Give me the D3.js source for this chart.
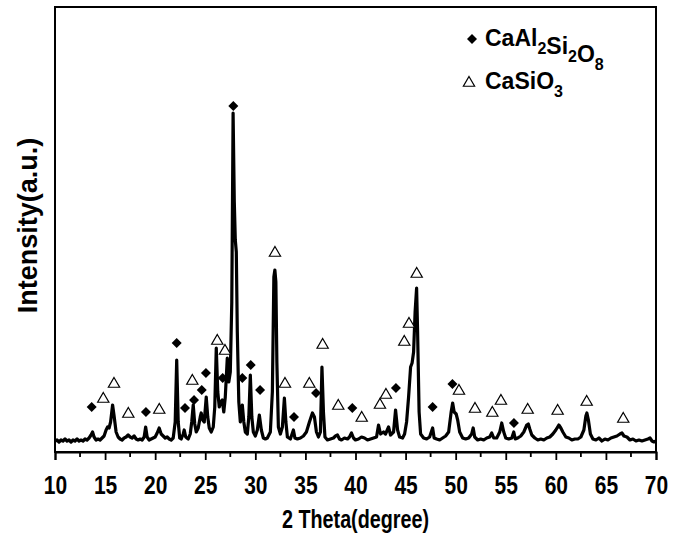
<!DOCTYPE html>
<html>
<head>
<meta charset="utf-8">
<script src="https://cdn.jsdelivr.net/npm/d3@7"></script>
<style>
  body { margin: 0; background: #fff; }
  text { font-family: "Liberation Sans", Arial, sans-serif; font-weight: bold; fill: #000; }
</style>
</head>
<body>
<svg id="chart" width="686" height="534"></svg>
<script>
// XRD pattern: [2theta (deg), intensity (a.u.)]
const pattern = [
  [10.0,11],[10.2,12],[10.4,10],[10.6,12],[10.8,11],[11.0,13],[11.2,11],[11.4,12],[11.6,10],[11.8,12],
  [12.0,11],[12.2,13],[12.4,11],[12.6,12],[12.8,11],[13.0,13],[13.2,12],[13.4,14],[13.6,17],[13.75,20],
  [13.9,15],[14.1,12],[14.3,13],[14.5,12],[14.7,14],[14.9,16],[15.1,22],[15.25,25],[15.4,24],[15.55,30],
  [15.75,47],[15.9,36],[16.1,20],[16.3,15],[16.5,13],[16.7,12],[16.9,14],[17.1,15],[17.3,17],[17.5,15],
  [17.7,14],[17.9,16],[18.1,13],[18.3,12],[18.5,13],[18.7,12],[18.9,15],[19.05,25],[19.2,15],[19.4,12],
  [19.6,13],[19.8,14],[20.0,15],[20.2,19],[20.4,24],[20.6,18],[20.8,16],[21.0,14],[21.2,15],[21.4,13],
  [21.6,12],[21.8,14],[22.0,30],[22.15,92],[22.3,30],[22.45,14],[22.6,13],[22.8,18],[22.9,22],[23.05,15],
  [23.3,13],[23.5,18],[23.65,30],[23.8,47],[23.95,28],[24.1,20],[24.3,24],[24.5,35],[24.6,39],[24.75,32],
  [24.9,30],[25.1,55],[25.25,35],[25.4,24],[25.6,20],[25.8,25],[25.95,45],[26.1,104],[26.25,60],[26.4,45],
  [26.55,50],[26.7,52],[26.85,40],[27.0,55],[27.2,94],[27.35,70],[27.5,80],[27.65,150],[27.78,339],[27.9,250],
  [28.0,212],[28.1,200],[28.2,120],[28.35,50],[28.5,30],[28.7,47],[28.85,30],[29.0,20],[29.2,18],[29.35,35],
  [29.5,77],[29.65,35],[29.8,20],[30.0,16],[30.2,22],[30.4,37],[30.6,22],[30.8,14],[31.0,13],[31.2,14],
  [31.5,20],[31.7,60],[31.85,175],[31.95,182],[32.05,170],[32.15,90],[32.3,25],[32.5,18],[32.7,25],[32.9,54],
  [33.05,30],[33.2,15],[33.5,13],[33.8,22],[33.95,14],[34.2,13],[34.5,14],[34.8,16],[35.1,20],[35.4,30],
  [35.7,39],[35.9,35],[36.1,20],[36.3,15],[36.5,20],[36.65,85],[36.8,40],[36.95,15],[37.2,12],[37.5,13],
  [37.8,14],[38.0,16],[38.2,17],[38.4,13],[38.6,12],[38.9,14],[39.2,13],[39.4,15],[39.6,19],[39.8,14],
  [40.0,12],[40.3,13],[40.6,15],[40.9,14],[41.2,12],[41.5,13],[41.8,14],[42.1,15],[42.3,27],[42.5,18],
  [42.8,20],[43.0,18],[43.3,25],[43.5,17],[43.8,20],[44.0,42],[44.2,22],[44.4,15],[44.7,14],[44.9,18],
  [45.1,30],[45.3,55],[45.5,85],[45.65,89],[45.8,100],[45.95,140],[46.1,164],[46.2,120],[46.35,40],[46.5,18],
  [46.8,14],[47.1,13],[47.4,15],[47.7,24],[47.85,14],[48.1,13],[48.4,12],[48.7,14],[49.0,16],[49.3,20],
  [49.55,40],[49.7,49],[49.85,40],[50.05,38],[50.2,32],[50.4,20],[50.7,14],[51.0,13],[51.3,14],[51.6,18],
  [51.75,24],[51.9,15],[52.2,12],[52.5,13],[52.8,12],[53.1,14],[53.4,15],[53.6,19],[53.8,14],[54.1,14],
  [54.4,20],[54.6,29],[54.8,20],[55.0,14],[55.3,13],[55.6,14],[55.8,20],[55.95,13],[56.2,14],[56.5,16],
  [56.8,20],[57.1,27],[57.25,28],[57.4,23],[57.6,17],[57.9,14],[58.2,12],[58.5,13],[58.8,12],[59.1,14],
  [59.4,15],[59.7,18],[60.0,22],[60.3,27],[60.5,24],[60.7,20],[61.0,15],[61.3,14],[61.6,12],[61.9,13],
  [62.2,13],[62.5,15],[62.8,22],[63.0,36],[63.1,39],[63.25,32],[63.45,18],[63.7,13],[64.0,12],[64.3,14],
  [64.6,11],[64.9,13],[65.2,12],[65.5,14],[65.8,15],[66.1,16],[66.4,18],[66.6,19],[66.8,16],[67.1,15],
  [67.4,12],[67.7,13],[68.0,11],[68.3,12],[68.6,11],[68.9,12],[69.2,13],[69.4,14],[69.6,11],[69.8,10],[70.0,11]
]

// phase markers: [2theta, height of marker]
const anorthite = [
  [13.66,45],[19.08,40],[22.15,109],[22.98,44],[23.88,52],[24.65,62],[25.07,79],[26.74,74],[27.8,346],
  [28.7,74],[29.54,87],[30.47,62],[33.86,35],[36.06,59],[39.68,44],[44.04,64],[47.7,45],[49.68,68],[55.82,29]
]
const wollastonite = [
  [14.82,53],[15.89,68],[17.32,38],[20.41,42],[23.71,71],[26.2,111],[26.97,101],[31.96,199],[32.96,68],
  [35.39,68],[36.72,107],[38.28,46],[40.62,34],[42.44,47],[43.04,57],[44.87,110],[45.34,128],[46.11,178],
  [50.33,61],[51.93,43],[53.66,39],[54.52,51],[57.19,42],[60.18,41],[63.08,50],[66.73,33]
]

const xTicks = [10,15,20,25,30,35,40,45,50,55,60,65,70]
const xMinor = [12.5,17.5,22.5,27.5,32.5,37.5,42.5,47.5,52.5,57.5,62.5,67.5]

const margin = {top: 7, right: 30, bottom: 82, left: 55},
      W = 686, H = 534

const svg = d3.select("#chart")

const x = d3.scaleLinear().domain([10, 70]).range([margin.left, W - margin.right])
const y = d3.scaleLinear().domain([0, 445]).range([H - margin.bottom, margin.top])

const diamond = d3.symbol(d3.symbolSquare, 50)
const triangle = d3.symbol(d3.symbolTriangle, 55)

// frame
svg.append("rect")
  .attr("x", x(10)).attr("y", y(445))
  .attr("width", x(70) - x(10)).attr("height", y(0) - y(445))
  .attr("fill", "none").attr("stroke", "#000").attr("stroke-width", 2)

// x axis (labels are a condensed bold face in the original)
const xAxis = svg.append("g")
  .attr("transform", `translate(0,${y(0)})`)
  .call(d3.axisBottom(x).tickValues(xTicks).tickSize(8).tickPadding(16).tickFormat(d3.format("d")))
xAxis.select(".domain").attr("stroke-width", 2)
xAxis.selectAll(".tick line").attr("stroke-width", 1.8)
xAxis.selectAll(".tick text")
  .attr("font-family", null)
  .style("font-size", "25px").style("font-weight", "bold")
  .attr("transform", "scale(0.84,1)")

svg.append("g").selectAll("line").data(xMinor).join("line")
  .attr("x1", d => x(d)).attr("x2", d => x(d))
  .attr("y1", y(0)).attr("y2", y(0) + 5)
  .attr("stroke", "#000").attr("stroke-width", 1.8)

// axis titles
svg.append("text")
  .attr("transform", `translate(${x(40)},528) scale(0.76,1)`)
  .attr("text-anchor", "middle").style("font-size", "26px")
  .text("2 Theta(degree)")

svg.append("text")
  .attr("transform", `translate(37,${(y(0) + y(445)) / 2 - 4}) rotate(-90)`)
  .attr("text-anchor", "middle").style("font-size", "27px")
  .text("Intensity(a.u.)")

// pattern
const line = d3.line().x(d => x(d[0])).y(d => y(d[1]))
svg.append("path").datum(pattern)
  .attr("d", line)
  .attr("fill", "none").attr("stroke", "#000")
  .attr("stroke-width", 3.2).attr("stroke-linejoin", "round")

// phase markers
svg.append("g").selectAll("path").data(anorthite).join("path")
  .attr("d", diamond)
  .attr("transform", d => `translate(${x(d[0])},${y(d[1])}) rotate(45)`)
  .attr("fill", "#000")

svg.append("g").selectAll("path").data(wollastonite).join("path")
  .attr("d", triangle)
  .attr("transform", d => `translate(${x(d[0])},${y(d[1])})`)
  .attr("fill", "#fff").attr("stroke", "#000").attr("stroke-width", 1.2)

// legend
const legend = svg.append("g")
legend.append("path").attr("d", diamond)
  .attr("transform", "translate(472,39) rotate(45)").attr("fill", "#000")
legend.append("path").attr("d", triangle)
  .attr("transform", "translate(469,83)")
  .attr("fill", "#fff").attr("stroke", "#000").attr("stroke-width", 1.2)

function formula(g, parts, px, py) {
  const t = g.append("text").attr("x", px).attr("y", py).style("font-size", "23px")
  parts.forEach(([s, sub]) => {
    t.append("tspan").attr("dy", 0).text(s)
    t.append("tspan").attr("dy", 8).style("font-size", "16px").text(sub)
    t.append("tspan").attr("dy", -8).text("")
  })
}
formula(legend, [["CaAl", "2"], ["Si", "2"], ["O", "8"]], 485, 46)
formula(legend, [["CaSiO", "3"]], 485, 89)
</script>
</body>
</html>
